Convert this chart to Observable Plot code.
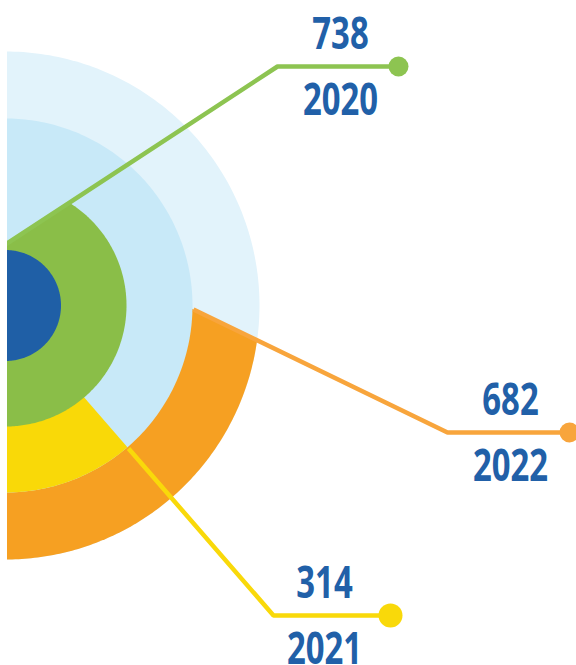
<!DOCTYPE html>
<html>
<head>
<meta charset="utf-8">
<script src="https://cdn.jsdelivr.net/npm/d3@7"></script>
<script src="https://cdn.jsdelivr.net/npm/@observablehq/plot@0.6"></script>
<style>
  html, body { margin: 0; padding: 0; background: #ffffff; }
  svg { display: block; }
</style>
</head>
<body>
<div id="chart"></div>
<script>
// ---- data ----
const years = ["2020", "2021", "2022"];
const values = [738, 314, 682];

// ---- styles ----
const fillColors = ["#8abe48", "#f9d908", "#f6a022"];
const lineColors = ["#8dc451", "#f9d90a", "#f8a53c"];
const discColors = {outer: "#e2f3fb", middle: "#c8e9f8", core: "#1f5fa6"};
const textColor = "#2160a8";

// ---- layout (units: px, origin at circle centre, y up) ----
const W = 576, H = 665;
const CX = 5, CY = 305;               // centre of the rings in the page
const radii = {core: 55.5, inner: 121, middle: 187, outer: 254};
const regionRadius = [radii.inner, radii.middle, radii.outer];
const callouts = [
  {start: [-3, 59],    elbow: [272, 239],  end: [393, 239],  labelX: 335, dotR: 10},
  {start: [123, -143], elbow: [268, -310], end: [385, -310], labelX: 319, dotR: 12},
  {start: [188, -4],   elbow: [442, -127], end: [564, -127], labelX: 505, dotR: 10}
];
const numberOffset = 18, yearOffset = -48;

// ---- geometry helpers ----
function circle(r, n = 360) {
  return d3.range(n + 1).map(k => {
    const a = 2 * Math.PI * k / n;
    return {x: r * Math.cos(a), y: r * Math.sin(a)};
  });
}
// disc of radius r, on the right-hand side of the directed line A->B
function segment(r, A, B, n = 300) {
  const dx = B[0] - A[0], dy = B[1] - A[1], L = Math.hypot(dx, dy);
  const ux = dx / L, uy = dy / L;
  const b = A[0] * ux + A[1] * uy;
  const c = A[0] * A[0] + A[1] * A[1] - r * r;
  const s = Math.sqrt(b * b - c);
  const tF = -b + s, tB = -b - s;
  const F = [A[0] + tF * ux, A[1] + tF * uy];
  const Bk = [A[0] + tB * ux, A[1] + tB * uy];
  const a0 = Math.atan2(F[1], F[0]);
  let a1 = Math.atan2(Bk[1], Bk[0]);
  if (a1 >= a0) a1 -= 2 * Math.PI;
  return d3.range(n + 1).map(k => {
    const a = a0 + (a1 - a0) * k / n;
    return {x: r * Math.cos(a), y: r * Math.sin(a)};
  });
}

const regions = years.map((yr, i) => segment(regionRadius[i], callouts[i].start, callouts[i].elbow));
const leaderRows = years.flatMap((yr, i) => [callouts[i].start, callouts[i].elbow, callouts[i].end]
  .map(p => ({year: yr, x: p[0], y: p[1]})));
const dotRows = years.map((yr, i) => ({year: yr, x: callouts[i].end[0], y: callouts[i].end[1]}));
const labelRows = years.flatMap((yr, i) => [
  {text: String(values[i]), x: callouts[i].labelX, y: callouts[i].end[1] + numberOffset},
  {text: yr, x: callouts[i].labelX, y: callouts[i].end[1] + yearOffset}
]);

const fillLine = (data, color) => Plot.line(data, {x: "x", y: "y", fill: color, stroke: "none", clip: true});

const plot = Plot.plot({
  width: W, height: H,
  marginLeft: 7, marginRight: 0, marginTop: 0, marginBottom: 0,
  x: {domain: [7 - CX, W - CX], axis: null},
  y: {domain: [CY - H, CY], axis: null},
  style: {background: "#ffffff", overflow: "visible"},
  marks: [
    fillLine(circle(radii.outer), discColors.outer),
    fillLine(regions[2], fillColors[2]),
    fillLine(circle(radii.middle), discColors.middle),
    fillLine(regions[1], fillColors[1]),
    fillLine(regions[0], fillColors[0]),
    fillLine(circle(radii.core), discColors.core),
    ...years.map((yr, i) => Plot.line(leaderRows.filter(d => d.year === yr), {
      x: "x", y: "y", stroke: lineColors[i], strokeWidth: 4.5,
      strokeLinecap: "butt", strokeLinejoin: "miter", clip: true
    })),
    ...years.map((yr, i) => Plot.dot(dotRows.filter(d => d.year === yr), {
      x: "x", y: "y", r: callouts[i].dotR, fill: lineColors[i], stroke: "none"
    })),
    Plot.text(labelRows, {
      x: "x", y: "y", text: "text", fill: textColor,
      fontSize: 45, fontWeight: 700, fontFamily: "'Open Sans', 'Liberation Sans', sans-serif",
      textAnchor: "middle", lineAnchor: "bottom"
    })
  ]
});

document.getElementById("chart").appendChild(plot);

// condense the label glyphs horizontally around their anchor
const sx = 0.73;
plot.querySelectorAll('g[aria-label="text"] text').forEach(t => {
  const tr = t.getAttribute("transform");
  if (tr) {
    t.setAttribute("transform", tr + ` scale(${sx},1)`);
  } else {
    const x = +t.getAttribute("x") || 0, y = +t.getAttribute("y") || 0;
    t.setAttribute("transform", `translate(${x},${y}) scale(${sx},1) translate(${-x},${-y})`);
  }
});
</script>
</body>
</html>
